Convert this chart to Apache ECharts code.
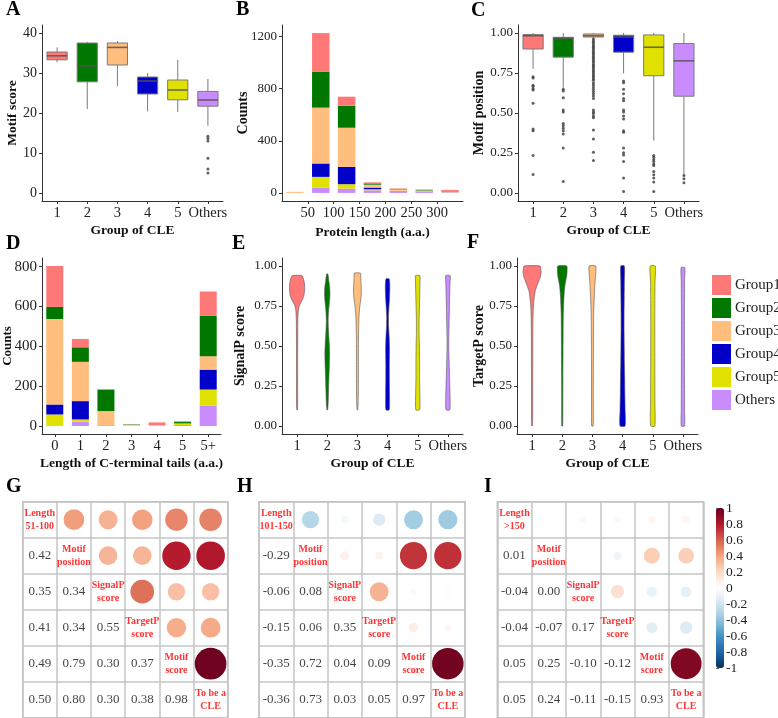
<!DOCTYPE html>
<html><head><meta charset="utf-8">
<script src="https://cdn.jsdelivr.net/npm/echarts@6/dist/echarts.min.js"></script>
<style>html,body{margin:0;padding:0;background:#fff}#c{width:778px;height:718px}</style>
</head><body><div id="c"></div>
<script>
const groupNames = ['Group1','Group2','Group3','Group4','Group5','Others'];
const groupColors = ['#FF7878','#007800','#FFBE7D','#0000C8','#E1E100','#C88CFF'];
const cleGroups = ['1','2','3','4','5','Others'];

// A: Motif score boxplot [min, Q1, median, Q3, max]
const scoreBoxG1 = [32.7,33.3,34.3,35.25,36.4];
const scoreBoxG2 = [21.0,27.8,31.75,37.5,37.75];
const scoreBoxG3 = [26.7,32.0,36.4,37.5,38.0];
const scoreBoxG4 = [20.4,24.75,28.0,29.0,30.0];
const scoreBoxG5 = [20.3,23.3,25.75,28.25,33.3];
const scoreBoxOthers = [16.8,21.7,23.25,25.4,28.5];
const scoreOutOthers = [14.2,13.6,13.0,8.7,6.0,5.0];
const scoreTicks = [0,10,20,30,40];

// B: protein length histogram (stacked), bins centred at 25..325
const lengthBins = ['25','75','125','175','225','275','325'];
const lengthTicks = [50,100,150,200,250,300];
const countTicksB = [0,400,800,1200];
const lenG1 = [0,295,69,8,5,1,8];
const lenG2 = [0,277,169,10,3,5,3];
const lenG3 = [8,428,300,22,8,5,4];
const lenG4 = [0,103,133,13,0,0,1];
const lenG5 = [0,82,34,8,3,2,2];
const lenOthers = [0,41,33,20,15,12,5];

// C: motif position boxplot
const posBoxG1 = [0.776,0.90,0.983,0.99,1.0];
const posBoxG2 = [0.658,0.849,0.967,0.973,1.0];
const posBoxG3 = [0.966,0.975,0.983,0.994,1.0];
const posBoxG4 = [0.747,0.88,0.975,0.986,1.0];
const posBoxG5 = [0.327,0.733,0.911,0.988,1.0];
const posBoxOthers = [0.114,0.605,0.826,0.934,1.0];
const posOutG1 = [0.727,0.718,0.673,0.665,0.652,0.644,0.561,0.40,0.389,0.234,0.116];
const posOutG2 = [0.648,0.638,0.596,0.518,0.507,0.435,0.420,0.404,0.389,0.369,0.282,0.072];
const posOutG3 = [0.963,0.952,0.942,0.932,0.921,0.911,0.901,0.890,0.880,0.870,0.859,0.849,0.839,0.828,0.818,0.807,0.797,0.787,0.776,0.766,0.756,0.745,0.735,0.725,0.714,0.704,0.689,0.677,0.663,0.648,0.634,0.621,0.607,0.590,0.518,0.507,0.497,0.482,0.470,0.393,0.337,0.255,0.203];
const posOutG4 = [0.700,0.689,0.648,0.621,0.590,0.576,0.518,0.507,0.482,0.462,0.389,0.379,0.282,0.251,0.238,0.197,0.093,0.010];
const posOutG5 = [0.234,0.224,0.209,0.197,0.182,0.172,0.135,0.114,0.093,0.068,0.010];
const posOutOthers = [0.110,0.089,0.064];
const unitTicks = [0,0.25,0.5,0.75,1];

// D: C-terminal tail length (stacked)
const tailCats = ['0','1','2','3','4','5','5+'];
const countTicksD = [0,200,400,600,800];
const tailG1 = [205,42,0,0,13,4,122];
const tailG2 = [61,73,108,2,0,7,203];
const tailG3 = [429,197,71,4,5,3,67];
const tailG4 = [50,92,0,0,0,0,100];
const tailG5 = [55,11,0,3,0,5,80];
const tailOthers = [3,22,4,0,0,5,103];

// E: SignalP violin [score, half-width density (fraction of band)]
const sigG1 = [[0.94,0.16],[0.92,0.21],[0.89,0.245],[0.85,0.25],[0.81,0.22],[0.78,0.15],[0.75,0.07],[0.72,0.04],[0.65,0.025],[0.5,0.02],[0.3,0.018],[0.15,0.02],[0.10,0.01]];
const sigG2 = [[0.95,0.02],[0.91,0.05],[0.87,0.08],[0.82,0.09],[0.77,0.07],[0.72,0.045],[0.66,0.03],[0.6,0.04],[0.52,0.065],[0.45,0.078],[0.38,0.07],[0.3,0.055],[0.2,0.04],[0.14,0.03],[0.1,0.012]];
const sigG3 = [[0.955,0.1],[0.93,0.11],[0.89,0.12],[0.84,0.13],[0.79,0.11],[0.74,0.075],[0.68,0.05],[0.6,0.04],[0.5,0.033],[0.35,0.033],[0.2,0.03],[0.12,0.02],[0.1,0.01]];
const sigG4 = [[0.92,0.05],[0.9,0.07],[0.86,0.075],[0.8,0.065],[0.74,0.045],[0.68,0.03],[0.62,0.035],[0.55,0.055],[0.48,0.065],[0.4,0.06],[0.3,0.06],[0.2,0.065],[0.12,0.065],[0.1,0.05]];
const sigG5 = [[0.94,0.07],[0.9,0.075],[0.82,0.065],[0.74,0.055],[0.66,0.045],[0.58,0.045],[0.5,0.055],[0.4,0.06],[0.3,0.06],[0.2,0.07],[0.12,0.075],[0.1,0.06]];
const sigOthers = [[0.94,0.075],[0.9,0.07],[0.82,0.06],[0.74,0.05],[0.65,0.04],[0.56,0.03],[0.48,0.03],[0.4,0.04],[0.3,0.055],[0.2,0.07],[0.12,0.075],[0.1,0.06]];

// F: TargetP violin
const tarG1 = [[1.0,0.27],[0.98,0.29],[0.96,0.3],[0.93,0.27],[0.9,0.21],[0.87,0.15],[0.84,0.1],[0.8,0.07],[0.75,0.045],[0.68,0.03],[0.55,0.024],[0.4,0.022],[0.2,0.02],[0.05,0.02],[0.0,0.01]];
const tarG2 = [[1.0,0.15],[0.97,0.16],[0.94,0.15],[0.91,0.12],[0.88,0.09],[0.84,0.07],[0.8,0.055],[0.75,0.045],[0.7,0.035],[0.6,0.03],[0.45,0.026],[0.3,0.022],[0.15,0.02],[0.0,0.015]];
const tarG3 = [[1.0,0.11],[0.96,0.11],[0.92,0.095],[0.88,0.08],[0.84,0.07],[0.8,0.06],[0.75,0.05],[0.7,0.042],[0.6,0.036],[0.45,0.033],[0.3,0.03],[0.15,0.03],[0.0,0.025]];
const tarG4 = [[1.0,0.06],[0.9,0.06],[0.8,0.055],[0.7,0.05],[0.6,0.05],[0.5,0.055],[0.4,0.06],[0.3,0.07],[0.2,0.075],[0.1,0.085],[0.0,0.085]];
const tarG5 = [[1.0,0.085],[0.9,0.075],[0.8,0.07],[0.7,0.068],[0.5,0.068],[0.3,0.07],[0.15,0.072],[0.0,0.07]];
const tarOthers = [[0.99,0.06],[0.9,0.055],[0.7,0.05],[0.5,0.05],[0.3,0.052],[0.1,0.055],[0.0,0.055]];

// G/H/I: correlation matrices (lower triangle rows)
const corrVarsG = ['Length\n51-100','Motif\nposition','SignalP\nscore','TargetP\nscore','Motif\nscore','To be a\nCLE'];
const corrVarsH = ['Length\n101-150','Motif\nposition','SignalP\nscore','TargetP\nscore','Motif\nscore','To be a\nCLE'];
const corrVarsI = ['Length\n>150','Motif\nposition','SignalP\nscore','TargetP\nscore','Motif\nscore','To be a\nCLE'];
const corrG = [[0.42],[0.35,0.34],[0.41,0.34,0.55],[0.49,0.79,0.30,0.37],[0.50,0.80,0.30,0.38,0.98]];
const corrH = [[-0.29],[-0.06,0.08],[-0.15,0.06,0.35],[-0.35,0.72,0.04,0.09],[-0.36,0.73,0.03,0.05,0.97]];
const corrI = [[0.01],[-0.04,0.00],[-0.04,-0.07,0.17],[0.05,0.25,-0.10,-0.12],[0.05,0.24,-0.11,-0.15,0.93]];
const rdbu = ['#053061','#2166AC','#4393C3','#92C5DE','#D1E5F0','#FFFFFF','#FDDBC7','#F4A582','#D6604D','#B2182B','#67001F'];

const FONT = '"Liberation Serif","Times New Roman",serif';
const AX = '#333';
const TICKFS = 14.5;
function axLine(){ return {show:true, onZero:false, lineStyle:{color:AX, width:1}}; }
function axTick(custom, align){ const t={show:true, length:3, lineStyle:{color:AX}}; if(custom) t.customValues=custom; if(align) t.alignWithLabel=true; return t; }
function axLabel(custom, fmt, size){ const l={color:'#222', fontSize:size||TICKFS, fontFamily:FONT, margin:5, formatter: fmt || (v=>String(v))}; if(custom) l.customValues=custom; return l; }
function nameStyle(size){ return {color:'#111', fontSize:size||14, fontWeight:'bold', fontFamily:FONT}; }
const f2 = v => Number(v).toFixed(2);

const grids = [
  {left:42, top:25, width:181, height:176},
  {left:282, top:25, width:181, height:176},
  {left:518, top:25, width:181, height:176},
  {left:42, top:258, width:179, height:176},
  {left:282, top:258, width:181, height:176},
  {left:517, top:258, width:181, height:176},
  {left:22.7, top:501.7, width:205, height:216, show:true, borderColor:'#C4C4C4', borderWidth:1.5},
  {left:259, top:501.7, width:206, height:216, show:true, borderColor:'#C4C4C4', borderWidth:1.5},
  {left:497.3, top:501.7, width:206, height:216, show:true, borderColor:'#C4C4C4', borderWidth:1.5},
  {left:716, top:508, width:8, height:160}
].map(g => Object.assign({outerBoundsMode:'none', containLabel:false}, g));

function catX(gi, data, name, gap){
  return {gridIndex:gi, type:'category', data:data, axisLine:axLine(), axisTick:axTick(null,true),
    axisLabel:Object.assign(axLabel(), {interval:0}), splitLine:{show:false},
    name:name, nameLocation:'middle', nameGap:gap, nameTextStyle:nameStyle(13.5)};
}
function valY(gi, min, max, ticks, fmt, name, gap, nsize, lsize){
  return {gridIndex:gi, type:'value', min:min, max:max, axisLine:axLine(), axisTick:axTick(ticks),
    axisLabel:axLabel(ticks, fmt, lsize), splitLine:{show:false}, nameMoveOverlap:false,
    name:name, nameLocation:'middle', nameGap:gap, nameTextStyle:nameStyle(nsize)};
}
function matAxis(gi, inverse){
  return {gridIndex:gi, type:'category', data:[0,1,2,3,4,5], inverse:!!inverse,
    axisLine:{show:false}, axisTick:{show:false}, axisLabel:{show:false},
    splitLine:{show:true, interval:0, lineStyle:{color:'#C4C4C4', width:1.5}}};
}

const xAxis = [
  catX(0, cleGroups, 'Group of CLE', 23),
  {gridIndex:1, type:'category', data:lengthBins, show:false, position:'bottom'},
  catX(2, cleGroups, 'Group of CLE', 23),
  catX(3, tailCats, 'Length of C-terminal tails (a.a.)', 23),
  catX(4, cleGroups, 'Group of CLE', 23),
  catX(5, cleGroups, 'Group of CLE', 23),
  matAxis(6), matAxis(7), matAxis(8),
  {gridIndex:9, type:'value', show:false},
  {gridIndex:1, type:'value', min:0, max:350, position:'bottom', axisLine:axLine(), axisTick:axTick(lengthTicks),
    axisLabel:axLabel(lengthTicks), splitLine:{show:false},
    name:'Protein length (a.a.)', nameLocation:'middle', nameGap:25, nameTextStyle:nameStyle(13.5)}
];
const yAxis = [
  valY(0, -2, 42, scoreTicks, null, 'Motif score', 22, 13.5, 14),
  valY(1, -62, 1288, countTicksB, null, 'Counts', 32, 14, 13),
  valY(2, -0.05, 1.05, unitTicks, f2, 'Motif position', 32, 14, 13),
  valY(3, -40, 843, countTicksD, null, 'Counts', 28, 13, 15),
  valY(4, -0.05, 1.05, unitTicks, f2, 'SignalP score', 35, 14, 13),
  valY(5, -0.05, 1.05, unitTicks, f2, 'TargetP score', 31, 14, 13),
  matAxis(6, true), matAxis(7, true), matAxis(8, true),
  {gridIndex:9, type:'value', min:-1, max:1, interval:0.2, position:'right',
    axisLine:{show:false}, axisTick:{show:true, length:3, lineStyle:{color:'#555'}},
    axisLabel:{color:'#222', fontSize:13.5, fontFamily:FONT, margin:2, formatter:v=>String(Math.round(v*10)/10)},
    splitLine:{show:false}}
];

const series = [];
const boxBorder = '#7a7a7a';
function boxRender(params, api){
  const i = api.value(0);
  const band = api.size([1,0])[0];
  const hw = band*0.335;
  const pMin = api.coord([i, api.value(1)]);
  const pQ1 = api.coord([i, api.value(2)]);
  const pMed = api.coord([i, api.value(3)]);
  const pQ3 = api.coord([i, api.value(4)]);
  const pMax = api.coord([i, api.value(5)]);
  const x = pMed[0];
  const ls = {stroke:boxBorder, lineWidth:1};
  return {type:'group', children:[
    {type:'line', shape:{x1:x, y1:pQ3[1], x2:x, y2:pMax[1]}, style:ls},
    {type:'line', shape:{x1:x, y1:pQ1[1], x2:x, y2:pMin[1]}, style:ls},
    {type:'rect', shape:{x:x-hw, y:pQ3[1], width:2*hw, height:pQ1[1]-pQ3[1]},
      style:{fill:groupColors[i], stroke:boxBorder, lineWidth:1}},
    {type:'line', shape:{x1:x-hw, y1:pMed[1], x2:x+hw, y2:pMed[1]}, style:{stroke:'#555', lineWidth:1.6, opacity:0.85}}
  ]};
}
function addBox(gi, boxes){
  series.push({type:'custom', xAxisIndex:gi, yAxisIndex:gi, silent:true, renderItem:boxRender,
    encode:{x:0, y:[1,2,3,4,5]}, data: boxes.map((d,i)=>[i].concat(d))});
}
function addOutliers(gi, outs){
  const data = [];
  outs.forEach((arr,i)=>arr.forEach(v=>data.push([i, v])));
  series.push({type:'scatter', xAxisIndex:gi, yAxisIndex:gi, symbolSize:3, silent:true,
    itemStyle:{color:'#3a3a3a'}, data:data});
}
// A
addBox(0, [scoreBoxG1,scoreBoxG2,scoreBoxG3,scoreBoxG4,scoreBoxG5,scoreBoxOthers]);
addOutliers(0, [[],[],[],[],[],scoreOutOthers]);
// B (stack bottom -> top: Others, G5, G4, G3, G2, G1)
const lenArrays = [lenG1,lenG2,lenG3,lenG4,lenG5,lenOthers];
for (let k=5;k>=0;k--){
  series.push({type:'bar', name:groupNames[k], xAxisIndex:1, yAxisIndex:1, stack:'B', barWidth:17.5, silent:true,
    itemStyle:{color:groupColors[k]}, data:lenArrays[k]});
}
// C
addBox(2, [posBoxG1,posBoxG2,posBoxG3,posBoxG4,posBoxG5,posBoxOthers]);
addOutliers(2, [posOutG1,posOutG2,posOutG3,posOutG4,posOutG5,posOutOthers]);
// D
const tailArrays = [tailG1,tailG2,tailG3,tailG4,tailG5,tailOthers];
for (let k=5;k>=0;k--){
  series.push({type:'bar', name:groupNames[k], xAxisIndex:3, yAxisIndex:3, stack:'D', barWidth:17, silent:true,
    itemStyle:{color:groupColors[k]}, data:tailArrays[k]});
}
// E, F violins
function violinRender(shapes){
  return function(params, api){
    const i = params.dataIndex;
    const band = api.size([1,0])[0];
    const right = [], left = [];
    shapes[i].forEach(([v,w])=>{
      const p = api.coord([i, v]);
      right.push([p[0] + w*band, p[1]]);
      left.push([p[0] - w*band, p[1]]);
    });
    return {type:'polygon', shape:{points:right.concat(left.reverse()), smooth:0.2},
      style:{fill:groupColors[i], stroke:'#555', lineWidth:0.6}};
  };
}
series.push({type:'custom', xAxisIndex:4, yAxisIndex:4, silent:true,
  renderItem:violinRender([sigG1,sigG2,sigG3,sigG4,sigG5,sigOthers]),
  encode:{x:0, y:1}, data:cleGroups.map((_,i)=>[i,0.5])});
series.push({type:'custom', xAxisIndex:5, yAxisIndex:5, silent:true,
  renderItem:violinRender([tarG1,tarG2,tarG3,tarG4,tarG5,tarOthers]),
  encode:{x:0, y:1}, data:cleGroups.map((_,i)=>[i,0.5])});

// Correlation matrices
const circleIdx = [];
function addCorr(gi, lower, names){
  const circles = [], nums = [], diag = [];
  lower.forEach((row, r)=>{
    const i = r+1;
    row.forEach((v, j)=>{
      nums.push([j, i, v]);
      circles.push([i, j, v]);
    });
  });
  names.forEach((n,k)=>diag.push([k,k,k]));
  circleIdx.push(series.length);
  series.push({type:'scatter', xAxisIndex:gi, yAxisIndex:gi, silent:true,
    symbolSize:v=>32*Math.sqrt(Math.abs(v[2])), itemStyle:{borderWidth:0, opacity:1}, data:circles});
  series.push({type:'scatter', xAxisIndex:gi, yAxisIndex:gi, silent:true, symbolSize:1,
    itemStyle:{color:'rgba(0,0,0,0)'}, data:nums,
    label:{show:true, position:'inside', formatter:p=>f2(p.value[2]), color:'#111', fontSize:13, fontFamily:FONT}});
  series.push({type:'scatter', xAxisIndex:gi, yAxisIndex:gi, silent:true, symbolSize:1,
    itemStyle:{color:'rgba(0,0,0,0)'}, data:diag,
    label:{show:true, position:'inside', formatter:p=>names[p.value[2]], color:'#FF0000', fontSize:10,
      fontWeight:'bold', fontFamily:FONT, lineHeight:12.5, align:'center'}});
}
addCorr(6, corrG, corrVarsG);
addCorr(7, corrH, corrVarsH);
addCorr(8, corrI, corrVarsI);

const letters = [['A',6,0],['B',236,0],['C',471,1],['D',6,234],['E',232,234],['F',467,233],['G',6,477],['H',237,477],['I',484,477]];

const option = {
  animation:false,
  backgroundColor:'#fff',
  textStyle:{fontFamily:FONT},
  grid:grids, xAxis:xAxis, yAxis:yAxis, series:series,
  legend:{data:groupNames, orient:'vertical', left:712, top:275, itemWidth:19, itemHeight:20, itemGap:3,
    icon:'rect', selectedMode:false, padding:0,
    textStyle:{fontSize:15, fontFamily:FONT, color:'#222', padding:[0,0,0,-1]}},
  visualMap:{type:'continuous', min:-1, max:1, dimension:2, seriesIndex:circleIdx, calculable:false,
    inRange:{color:rdbu}, left:716, top:508, itemWidth:8, itemHeight:160, padding:0, hoverLink:false,
    orient:'vertical'},
  graphic:letters.map(([t,x,y])=>({type:'text', x:x, y:y, silent:true,
    style:{text:t, font:'bold 20px "Liberation Serif", serif', fill:'#000'}}))
};
const chart = echarts.init(document.getElementById('c'), null, {renderer:'canvas'});
chart.setOption(option);
</script></body></html>
